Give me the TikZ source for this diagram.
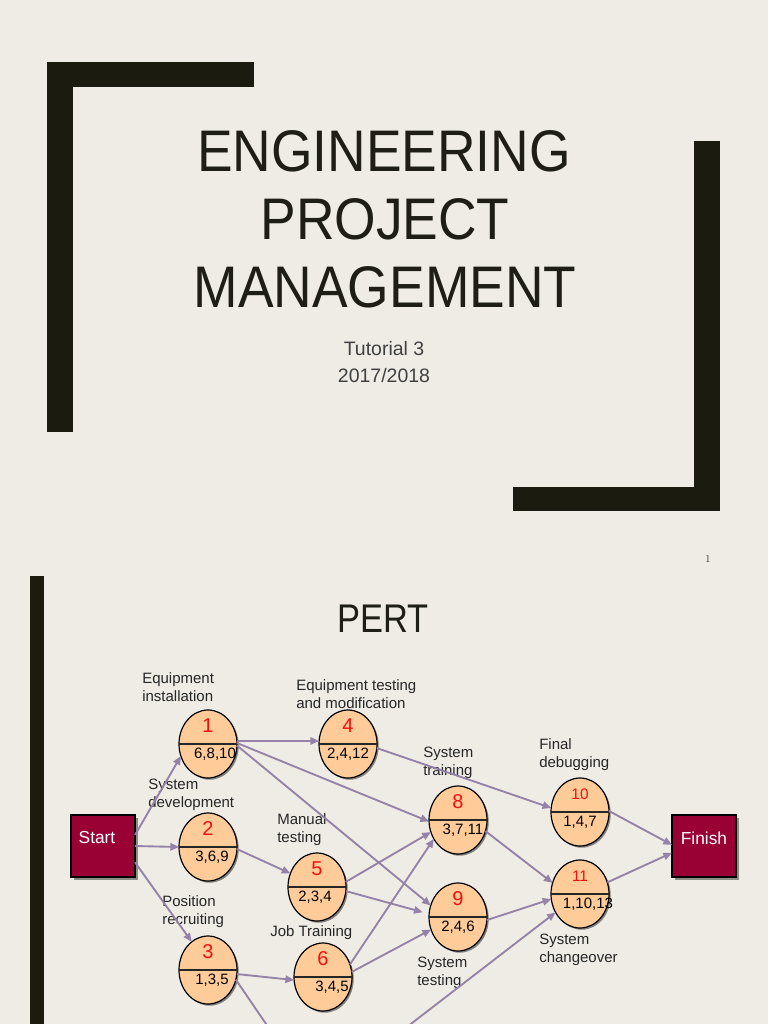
\documentclass[tikz,border=0pt]{standalone}
\usepackage{fontspec}
\newfontfamily\sansf{Liberation Sans}
\newfontfamily\titlefont[FakeStretch=0.91]{Liberation Sans}
\newfontfamily\pertfont[FakeStretch=0.86]{Liberation Sans}
\usetikzlibrary{shapes.geometric,arrows.meta,shadows,calc}
\definecolor{bg}{HTML}{EFECE5}
\definecolor{barc}{HTML}{1B1B10}
\definecolor{titlec}{HTML}{1E1E16}
\definecolor{subc}{HTML}{404040}
\definecolor{peach}{HTML}{FFCC99}
\definecolor{crimson}{HTML}{990033}
\definecolor{edgec}{HTML}{9482A8}
\definecolor{numred}{HTML}{EE1111}
\definecolor{lblc}{HTML}{262626}
\newcommand\pertnode[7]{%
  \node[pell] (#1) at (#2,#3) {};
  \draw[divline] (#1.west) -- (#1.east);
  \node[#7] (#1n) at ($(#1)+(0,-18)$) {#4};
  \node[valtxt] (#1v) at ($(#1)+(#6,10)$) {#5};
}
\begin{document}
\begin{tikzpicture}[x=0.75pt,y=-0.75pt,
  titletxt/.style={font=\titlefont\fontsize{44}{44}\selectfont, text=titlec, inner sep=0, anchor=base},
  subtxt/.style={font=\sansf\fontsize{14.6}{14.6}\selectfont, text=subc, inner sep=0, anchor=base},
  pell/.style={ellipse, draw=black, line width=0.9pt, fill=peach, minimum width=43.5pt, minimum height=51pt, inner sep=0, outer sep=0,
     drop shadow={shadow xshift=1.3pt, shadow yshift=-1.3pt, fill=black, opacity=0.45}},
  divline/.style={draw=black!85, line width=0.9pt},
  numbig/.style={font=\sansf\fontsize{15}{15}\selectfont, text=numred, inner sep=0},
  numsmall/.style={font=\sansf\fontsize{11.5}{11.5}\selectfont, text=numred, inner sep=0},
  valtxt/.style={font=\sansf\fontsize{11.25}{11.25}\selectfont, text=black, inner sep=0},
  lbl/.style={font=\sansf\fontsize{11.25}{13.5}\selectfont, text=lblc, align=left, anchor=west, inner sep=0},
  pbox/.style={rectangle, draw=black, line width=1.5pt, fill=crimson, minimum width=48pt, minimum height=46.5pt, inner sep=0, outer sep=0,
     drop shadow={shadow xshift=2pt, shadow yshift=-2pt, fill=black!70, opacity=0.6}},
  boxtxt/.style={font=\sansf\fontsize{13}{13}\selectfont, text=white, inner sep=0},
  conn/.style={draw=edgec, line width=1.4pt, -{Triangle[length=6.5pt,width=5.5pt]}}
]
\clip (0,0) rectangle (768,1024);
\fill[bg] (0,0) rectangle (768,1024);
% slide 1 brackets
\fill[barc] (47,62) rectangle (254,87);
\fill[barc] (47,62) rectangle (73,432);
\fill[barc] (694,141) rectangle (720,511);
\fill[barc] (513,487) rectangle (720,511);
% titles
\node[titletxt] (t1) at (384,171) {ENGINEERING};
\node[titletxt] (t2) at (385,239) {PROJECT};
\node[titletxt] (t3) at (385,307) {MANAGEMENT};
\node[subtxt] (s1) at (384,355) {Tutorial 3};
\node[subtxt] (s2) at (384,382) {2017/2018};
\node[font=\rmfamily\fontsize{8}{8}\selectfont, text=black!75, inner sep=0] (pg) at (708,559) {1};
% slide 2
\fill[barc] (30,576) rectangle (44,1024);
\node[font=\pertfont\fontsize{30}{30}\selectfont, text=titlec, inner sep=0, anchor=base] (pert) at (383,632) {PERT};
% boxes
\node[pbox] (start) at (103,846) {};
\node[boxtxt] (startt) at (97,838) {Start};
\node[pbox] (finish) at (704,846) {};
\node[boxtxt] (finisht) at (704,838) {Finish};
% event nodes
\pertnode{n1}{208}{744}{1}{6,8,10}{7}{numbig}
\pertnode{n2}{208}{847}{2}{3,6,9}{4}{numbig}
\pertnode{n3}{208}{970}{3}{1,3,5}{4}{numbig}
\pertnode{n4}{348}{744}{4}{2,4,12}{0}{numbig}
\pertnode{n5}{317}{887}{5}{2,3,4}{-2}{numbig}
\pertnode{n6}{323}{977}{6}{3,4,5}{9}{numbig}
\pertnode{n8}{458}{820}{8}{3,7,11}{5}{numbig}
\pertnode{n9}{458}{917}{9}{2,4,6}{0}{numbig}
\pertnode{n10}{580}{812}{10}{1,4,7}{0}{numsmall}
\pertnode{n11}{580}{894}{11}{1,10,13}{8}{numsmall}
% labels
\node[lbl] (l1) at (142,687) {Equipment\\installation};
\node[lbl] (l4) at (296,694) {Equipment testing\\and modification};
\node[lbl] (l2) at (148,794.5) {System\\development};
\node[lbl] (l5) at (277,830) {Manual\\testing};
\node[lbl] (l8) at (423,762.5) {System\\training};
\node[lbl] (l10) at (539,754.5) {Final\\debugging};
\node[lbl] (l3) at (162,912) {Position\\recruiting};
\node[lbl] (l6) at (270,933) {Job Training};
\node[lbl] (l9) at (417,972.5) {System\\testing};
\node[lbl] (l11) at (539,950) {System\\changeover};
% off-picture ends
\coordinate (c7) at (277,1040);
\coordinate (c13) at (390,1040);
% connectors
\draw[conn] (start.19) -- (n1.204);
\draw[conn] (start.east) -- (n2.west);
\draw[conn] (start.333) -- (n3.120);
\draw[conn] (n1.6) -- (n4.174);
\draw[conn] (n1.2) -- (n8.183);
\draw[conn] (n1.357) -- (n9.157);
\draw[conn] (n4.352) -- (n10.172);
\draw[conn] (n2.356) -- (n5.153);
\draw[conn] (n3.352) -- (n6.186);
\draw[conn] (n3.341) -- (c7);
\draw[conn] (n5.10) -- (n8.204);
\draw[conn, shorten >=5pt] (n5.352) -- (n9.174);
\draw[conn] (n6.25) -- (n8.218);
\draw[conn] (n6.10) -- (n9.205);
\draw[conn] (n8.338) -- (n11.158);
\draw[conn] (n9.354) -- (n11.190);
\draw[conn] (c13) -- (n11.217);
\draw[conn] (n10.2) -- (finish.178);
\draw[conn] (n11.23) -- (finish.192);
\end{tikzpicture}
\end{document}
